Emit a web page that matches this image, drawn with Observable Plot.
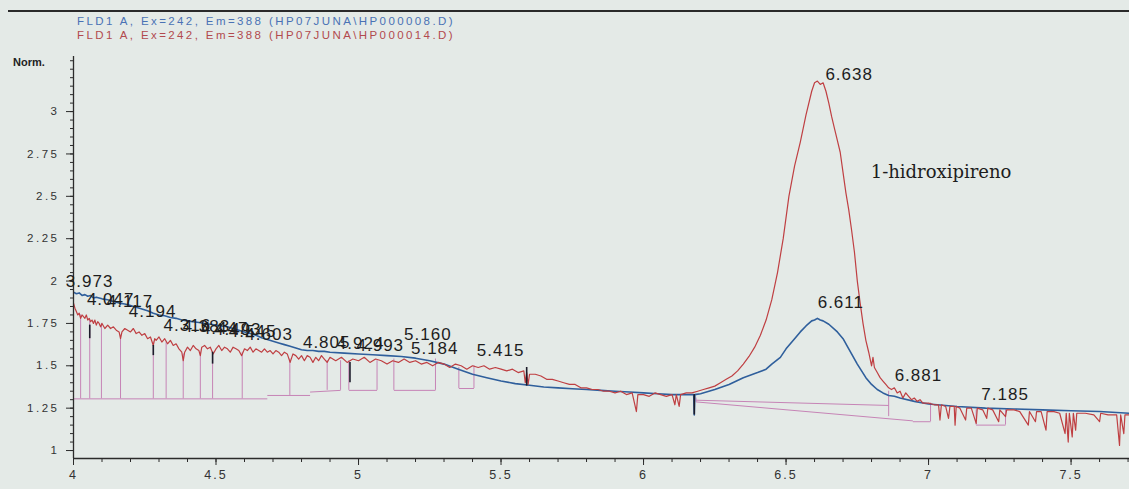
<!DOCTYPE html>
<html>
<head>
<meta charset="utf-8">
<script src="https://cdn.jsdelivr.net/npm/d3@7"></script>
<script src="https://cdn.jsdelivr.net/npm/@observablehq/plot@0.6"></script>
<style>
  body { margin: 0; background: #e4eae7; }
  #wrap { position: relative; width: 1129px; height: 489px; overflow: hidden; background: #e4eae7; }
  #chart { position: absolute; left: 0; top: 0; }
  .rule { position: absolute; left: 8px; right: 0; top: 10px; height: 2px; background: #2a2a2a; }
  .head { position: absolute; left: 77px; font: 11.5px Arial, "Liberation Sans", sans-serif; letter-spacing: 2.4px; white-space: pre; }
  #h1 { top: 15px; color: #4a72b5; }
  #h2 { top: 29px; color: #b24a4e; }
  #norm { position: absolute; left: 13px; top: 56px; font: bold 11px Arial, "Liberation Sans", sans-serif; color: #222; }
  g[aria-label="y-axis tick label"] text { letter-spacing: 2.5px; }
  g[aria-label="x-axis tick label"] text { letter-spacing: 2px; }
</style>
</head>
<body>
<div id="wrap">
  <div id="chart"></div>
  <div class="rule"></div>
  <div class="head" id="h1"></div>
  <div class="head" id="h2"></div>
  <div id="norm"></div>
</div>
<script>
// Signal titles and axis wording
const signalTitles = [
  "FLD1 A, Ex=242, Em=388 (HP07JUNA\\HP000008.D)",
  "FLD1 A, Ex=242, Em=388 (HP07JUNA\\HP000014.D)"
];
const yUnit = "Norm.";
const peakName = "1-hidroxipireno";

// Axis ranges and ticks (retention time in minutes, normalised response)
const xDomain = [4, 7.705];
const yDomain = [0.953, 3.325];
const xMajor = [4, 4.5, 5, 5.5, 6, 6.5, 7, 7.5];
const xMajorLabels = ["4", "4.5", "5", "5.5", "6", "6.5", "7", "7.5"];
const xMinor = d3.range(40, 78).map(k => k / 10);
const yMajor = [1, 1.25, 1.5, 1.75, 2, 2.25, 2.5, 2.75, 3];
const yMajorLabels = ["1", "1.25", "1.5", "1.75", "2", "2.25", "2.5", "2.75", "3"];
const yMinor = d3.range(20, 67).map(k => k / 20);

// Trace of HP000008 (blue)
const blueT = [4.00,4.01,4.02,4.03,4.04,4.05,4.06,4.07,4.08,4.10,4.12,4.14,4.16,4.18,4.20,4.22,4.24,4.26,4.28,4.30,4.32,4.34,4.36,4.38,4.40,4.42,4.44,4.46,4.48,4.50,4.52,4.54,4.56,4.58,4.60,4.62,4.64,4.66,4.68,4.70,4.72,4.74,4.76,4.78,4.80,4.82,4.84,4.86,4.88,4.90,4.95,5.00,5.05,5.10,5.15,5.20,5.25,5.30,5.35,5.40,5.45,5.50,5.55,5.60,5.65,5.70,5.75,5.80,5.85,5.90,5.95,6.00,6.05,6.10,6.15,6.176,6.178,6.180,6.20,6.25,6.30,6.35,6.40,6.43,6.45,6.48,6.50,6.53,6.55,6.57,6.58,6.59,6.60,6.61,6.62,6.63,6.65,6.68,6.70,6.72,6.75,6.78,6.80,6.82,6.84,6.86,6.88,6.90,6.95,7.00,7.10,7.20,7.30,7.40,7.50,7.60,7.705];
const blueV = [1.935,1.925,1.93,1.915,1.92,1.91,1.915,1.9,1.905,1.895,1.89,1.88,1.87,1.865,1.855,1.845,1.835,1.825,1.81,1.80,1.795,1.785,1.78,1.77,1.765,1.76,1.755,1.75,1.745,1.74,1.735,1.73,1.72,1.71,1.70,1.69,1.68,1.665,1.655,1.645,1.635,1.625,1.615,1.605,1.595,1.59,1.59,1.585,1.585,1.58,1.575,1.57,1.565,1.56,1.555,1.545,1.53,1.51,1.48,1.45,1.43,1.41,1.395,1.385,1.375,1.37,1.365,1.36,1.355,1.35,1.345,1.34,1.335,1.33,1.33,1.33,1.21,1.33,1.335,1.36,1.39,1.43,1.46,1.48,1.51,1.55,1.60,1.66,1.70,1.735,1.75,1.765,1.77,1.78,1.77,1.765,1.745,1.70,1.66,1.60,1.51,1.43,1.39,1.36,1.34,1.325,1.32,1.31,1.29,1.275,1.26,1.25,1.245,1.24,1.235,1.23,1.22];

// Trace of HP000014 (red)
const redT = [4.000,4.005,4.010,4.015,4.020,4.025,4.030,4.035,4.040,4.045,4.050,4.055,4.060,4.065,4.070,4.075,4.080,4.085,4.090,4.095,4.100,4.110,4.120,4.130,4.140,4.150,4.160,4.165,4.170,4.180,4.190,4.200,4.210,4.220,4.230,4.240,4.250,4.260,4.270,4.280,4.285,4.290,4.300,4.310,4.320,4.330,4.340,4.350,4.360,4.370,4.380,4.385,4.390,4.400,4.410,4.420,4.430,4.440,4.445,4.450,4.460,4.470,4.480,4.490,4.500,4.510,4.520,4.530,4.540,4.550,4.560,4.570,4.580,4.590,4.600,4.610,4.620,4.630,4.640,4.650,4.660,4.670,4.680,4.690,4.700,4.710,4.720,4.730,4.740,4.750,4.760,4.770,4.780,4.790,4.800,4.810,4.820,4.830,4.840,4.850,4.860,4.870,4.880,4.890,4.900,4.920,4.940,4.960,4.980,5.000,5.020,5.040,5.060,5.080,5.100,5.120,5.140,5.160,5.180,5.200,5.220,5.240,5.260,5.280,5.300,5.320,5.340,5.360,5.380,5.400,5.420,5.440,5.460,5.480,5.500,5.520,5.540,5.560,5.580,5.585,5.590,5.595,5.600,5.620,5.640,5.660,5.680,5.700,5.720,5.740,5.760,5.780,5.800,5.820,5.840,5.860,5.880,5.900,5.920,5.940,5.960,5.975,5.980,6.000,6.020,6.040,6.060,6.080,6.100,6.110,6.115,6.125,6.130,6.150,6.170,6.190,6.210,6.230,6.250,6.270,6.290,6.310,6.330,6.350,6.370,6.390,6.410,6.430,6.450,6.470,6.490,6.510,6.530,6.550,6.570,6.590,6.600,6.610,6.620,6.630,6.640,6.650,6.660,6.670,6.680,6.690,6.700,6.710,6.720,6.730,6.740,6.750,6.760,6.770,6.780,6.790,6.800,6.805,6.810,6.820,6.830,6.840,6.850,6.860,6.870,6.880,6.890,6.900,6.910,6.920,6.930,6.940,6.950,6.960,6.970,6.980,7.000,7.020,7.035,7.040,7.045,7.060,7.070,7.075,7.090,7.093,7.097,7.110,7.130,7.134,7.150,7.167,7.171,7.190,7.204,7.208,7.225,7.246,7.250,7.270,7.274,7.300,7.320,7.350,7.354,7.375,7.379,7.395,7.412,7.416,7.440,7.460,7.479,7.483,7.490,7.494,7.504,7.508,7.516,7.520,7.550,7.580,7.600,7.604,7.630,7.660,7.670,7.674,7.685,7.689,7.705];
const redV = [1.87,1.84,1.82,1.80,1.81,1.78,1.80,1.79,1.78,1.80,1.77,1.78,1.76,1.77,1.75,1.77,1.74,1.76,1.75,1.73,1.75,1.72,1.74,1.72,1.73,1.71,1.70,1.66,1.70,1.72,1.71,1.70,1.72,1.69,1.70,1.68,1.69,1.66,1.67,1.62,1.66,1.65,1.67,1.64,1.66,1.63,1.65,1.62,1.63,1.60,1.58,1.53,1.58,1.61,1.59,1.62,1.60,1.59,1.56,1.61,1.62,1.60,1.61,1.57,1.60,1.62,1.59,1.61,1.60,1.58,1.61,1.60,1.59,1.56,1.60,1.59,1.61,1.58,1.60,1.59,1.58,1.60,1.58,1.59,1.57,1.59,1.58,1.56,1.58,1.57,1.52,1.57,1.56,1.54,1.56,1.53,1.56,1.55,1.52,1.55,1.53,1.56,1.54,1.52,1.55,1.53,1.55,1.52,1.54,1.53,1.55,1.52,1.54,1.53,1.51,1.53,1.52,1.54,1.52,1.53,1.51,1.52,1.50,1.52,1.51,1.49,1.51,1.50,1.48,1.50,1.49,1.50,1.48,1.49,1.48,1.47,1.48,1.46,1.47,1.40,1.46,1.39,1.45,1.45,1.44,1.42,1.42,1.41,1.40,1.39,1.39,1.37,1.37,1.36,1.36,1.35,1.35,1.34,1.35,1.33,1.34,1.23,1.33,1.33,1.32,1.34,1.33,1.32,1.33,1.27,1.33,1.26,1.33,1.34,1.34,1.35,1.36,1.37,1.38,1.40,1.42,1.44,1.47,1.51,1.555,1.61,1.68,1.77,1.89,2.05,2.25,2.50,2.68,2.82,2.98,3.12,3.17,3.18,3.16,3.17,3.12,3.05,2.97,2.90,2.83,2.76,2.64,2.52,2.42,2.30,2.17,2.00,1.87,1.75,1.65,1.58,1.50,1.55,1.49,1.46,1.43,1.41,1.39,1.37,1.36,1.37,1.34,1.35,1.31,1.34,1.32,1.30,1.31,1.29,1.30,1.28,1.28,1.27,1.27,1.18,1.27,1.26,1.19,1.26,1.26,1.15,1.26,1.25,1.18,1.25,1.25,1.16,1.25,1.24,1.19,1.25,1.24,1.17,1.24,1.20,1.24,1.24,1.23,1.15,1.23,1.17,1.23,1.23,1.12,1.23,1.23,1.22,1.10,1.22,1.05,1.22,1.08,1.22,1.12,1.22,1.22,1.21,1.17,1.22,1.21,1.21,1.03,1.21,1.10,1.21,1.21];

// Integration drop lines (time, top, baseline)
const dropT    = [4.025,4.057,4.098,4.165,4.280,4.325,4.385,4.445,4.488,4.592,4.759,4.890,4.937,4.966,5.065,5.124,5.270,5.352,5.405,6.184,6.860,7.007,7.167,7.270];
const dropTop  = [1.80,1.77,1.75,1.68,1.64,1.64,1.57,1.58,1.58,1.58,1.54,1.53,1.53,1.53,1.53,1.54,1.54,1.49,1.50,1.31,1.35,1.28,1.24,1.24];
const dropBase = [1.305,1.305,1.305,1.305,1.305,1.305,1.305,1.305,1.305,1.305,1.325,1.355,1.355,1.355,1.355,1.355,1.355,1.366,1.366,1.285,1.20,1.17,1.15,1.15];

// Integration baseline segments
const segX1 = [4.000,4.680,4.830,4.966,5.124,5.352,6.184,6.184,6.945,7.167];
const segY1 = [1.305,1.325,1.345,1.355,1.355,1.366,1.297,1.287,1.170,1.150];
const segX2 = [4.680,4.830,4.937,5.065,5.270,5.405,6.860,6.945,7.007,7.270];
const segY2 = [1.305,1.325,1.355,1.355,1.355,1.366,1.266,1.175,1.170,1.150];

// Peak start/end marks drawn on the traces
const markT   = [4.057,4.280,4.488,4.970,5.590,6.178];
const markTop = [1.74,1.62,1.58,1.52,1.49,1.33];
const markBot = [1.66,1.56,1.51,1.40,1.38,1.21];

// Retention time annotations and their label heights
const peakT = [3.973,4.047,4.117,4.194,4.316,4.383,4.447,4.493,4.545,4.603,4.805,4.924,4.993,5.160,5.184,5.415,6.611,6.638,6.881,7.185];
const peakY = [2.00,1.89,1.88,1.82,1.74,1.73,1.72,1.715,1.70,1.685,1.64,1.63,1.62,1.685,1.60,1.59,1.875,3.22,1.44,1.33];

// Compound annotation
const noteT = [6.797];
const noteV = [2.645];

const blue = blueT.map((t, i) => ({t, v: blueV[i]}));
const red = redT.map((t, i) => ({t, v: redV[i]}));
const drops = dropT.map((t, i) => ({t, top: dropTop[i], base: dropBase[i]}));
const segs = segX1.map((x1, i) => ({x1, y1: segY1[i], x2: segX2[i], y2: segY2[i]}));
const marks = markT.map((t, i) => ({t, top: markTop[i], bot: markBot[i]}));
const peaks = peakT.map((t, i) => ({t, y: peakY[i]}));

const pink = "#c684b6";
const axisColor = "#2b2b2b";
const sans = "Arial, 'Liberation Sans', sans-serif";

const chart = Plot.plot({
  width: 1129,
  height: 489,
  marginLeft: 73,
  marginRight: 0,
  marginTop: 56,
  marginBottom: 31,
  style: {background: "transparent", fontFamily: sans, overflow: "visible"},
  x: {domain: xDomain, label: null},
  y: {domain: yDomain, label: null},
  marks: [
    // integration baselines and drop lines
    Plot.link(segs, {x1: "x1", y1: "y1", x2: "x2", y2: "y2", stroke: pink, strokeWidth: 1}),
    Plot.ruleX(drops, {x: "t", y1: "top", y2: "base", stroke: pink, strokeWidth: 1}),
    // signal traces
    Plot.line(blue, {x: "t", y: "v", stroke: "#2f5f9c", strokeWidth: 1.6, clip: true}),
    Plot.line(red, {x: "t", y: "v", stroke: "#bf3f42", strokeWidth: 1.2, clip: true}),
    Plot.ruleX(marks, {x: "t", y1: "top", y2: "bot", stroke: "#1c1c2a", strokeWidth: 1.6}),
    // axes
    Plot.ruleX([xDomain[0]], {stroke: axisColor, strokeWidth: 1.3}),
    Plot.ruleY([yDomain[0]], {stroke: axisColor, strokeWidth: 1.3}),
    Plot.axisY(yMinor, {tickSize: 3, tickFormat: () => "", stroke: axisColor, label: null}),
    Plot.axisY(yMajor, {tickSize: 7, tickPadding: 7, tickFormat: (d) => yMajorLabels[yMajor.indexOf(d)], fontSize: 11.5, fill: "#333", stroke: axisColor, label: null}),
    Plot.axisX(xMinor, {tickSize: 4, tickFormat: () => "", stroke: axisColor, label: null}),
    Plot.axisX(xMajor, {tickSize: 7, tickPadding: 5, tickFormat: (d) => xMajorLabels[xMajor.indexOf(d)], fontSize: 12.5, fill: "#333", stroke: axisColor, label: null}),
    // retention time labels
    Plot.text(peaks, {x: "t", y: "y", text: d => d.t.toFixed(3), textAnchor: "start", fontSize: 17, fill: "#1d1d1d", fontFamily: sans}),
    Plot.text(noteT, {x: noteT, y: noteV, text: [peakName], textAnchor: "start", fontSize: 18, fill: "#1d1d1d", fontFamily: "'DejaVu Serif', serif"})
  ]
});
// slightly wider spacing for the retention time labels
const textGroups = chart.querySelectorAll('g[aria-label="text"]');
if (textGroups.length) textGroups[0].style.letterSpacing = "1px";
document.getElementById("chart").appendChild(chart);
document.getElementById("h1").textContent = signalTitles[0];
document.getElementById("h2").textContent = signalTitles[1];
document.getElementById("norm").textContent = yUnit;
</script>
</body>
</html>
